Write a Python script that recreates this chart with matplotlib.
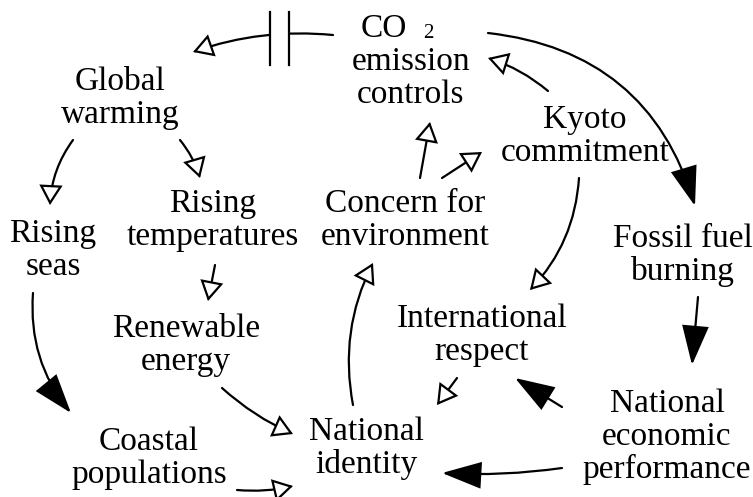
import matplotlib.pyplot as plt
from matplotlib.patches import FancyArrowPatch, ArrowStyle, Rectangle

# node labels (one entry per line of text)
nodes = {
    "co2": ["emission", "controls"],
    "gw": ["Global", "warming"],
    "kyoto": ["Kyoto", "commitment"],
    "seas": ["Rising", "seas"],
    "temp": ["Rising", "temperatures"],
    "concern": ["Concern for", "environment"],
    "fossil": ["Fossil fuel", "burning"],
    "renew": ["Renewable", "energy"],
    "intl": ["International", "respect"],
    "ident": ["National", "identity"],
    "coast": ["Coastal", "populations"],
    "econ": ["National", "economic", "performance"],
}

# causal links: source, target, head type ("open" / "solid"), delay mark
links = [
    ("co2", "gw", "open", True),
    ("gw", "seas", "open", False),
    ("gw", "temp", "open", False),
    ("temp", "renew", "open", False),
    ("seas", "coast", "solid", False),
    ("renew", "ident", "open", False),
    ("coast", "ident", "open", False),
    ("ident", "concern", "open", False),
    ("concern", "co2", "open", False),
    ("concern", "kyoto", "open", False),
    ("kyoto", "co2", "open", False),
    ("kyoto", "intl", "open", False),
    ("co2", "fossil", "solid", False),
    ("fossil", "econ", "solid", False),
    ("econ", "intl", "solid", False),
    ("intl", "ident", "open", False),
    ("econ", "ident", "solid", False),
]

# layout in pixel space: label centre x and first baseline y
node_pos = {
    "co2": (411, 70), "gw": (120, 90), "kyoto": (585, 128),
    "seas": (53, 242), "temp": (213, 212), "concern": (405, 212),
    "fossil": (683, 247), "renew": (186, 337), "intl": (482, 327),
    "ident": (366, 440), "coast": (149, 450), "econ": (667, 412),
}

# arrow geometry: start, tip, arc curvature
link_geom = {
    ("co2", "gw"): ((333, 35), (193, 52), 0.11),
    ("gw", "seas"): ((73, 140), (50, 205), 0.15),
    ("gw", "temp"): ((180, 140), (200, 178), -0.1),
    ("temp", "renew"): ((215, 265), (208, 301), 0.0),
    ("seas", "coast"): ((33, 293), (71, 413), 0.2),
    ("renew", "ident"): ((222, 388), (293, 434), 0.08),
    ("coast", "ident"): ((237, 490), (293, 486), 0.08),
    ("ident", "concern"): ((353, 405), (373, 263), -0.17),
    ("concern", "co2"): ((420, 178), (430, 122), 0.0),
    ("concern", "kyoto"): ((442, 178), (482, 152), 0.0),
    ("kyoto", "co2"): ((548, 91), (488, 58), 0.1),
    ("kyoto", "intl"): ((579, 178), (530, 290), -0.18),
    ("co2", "fossil"): ((488, 33), (695, 206), -0.33),
    ("fossil", "econ"): ((698, 297), (692, 365), 0.0),
    ("econ", "intl"): ((562, 407), (515, 378), 0.0),
    ("intl", "ident"): ((457, 378), (437, 405), 0.0),
    ("econ", "ident"): ((562, 468), (442, 473), -0.05),
}

FONT = "Liberation Serif"
LINE_STEP = 33

fig = plt.figure(figsize=(7.53, 4.97), dpi=100)
ax = fig.add_axes([0, 0, 1, 1])
ax.set_xlim(0, 753)
ax.set_ylim(497, 0)
ax.axis("off")

# node labels
for key, lines in nodes.items():
    x, y0 = node_pos[key]
    for i, line in enumerate(lines):
        ax.text(x, y0 + i * LINE_STEP, line, ha="center", va="baseline",
                fontsize=24, family=FONT)

# "CO 2" line above the emission controls label
ax.text(361, 37, "CO", ha="left", va="baseline", fontsize=24, family=FONT)
ax.text(423, 38, "2", ha="left", va="baseline", fontsize=15, family=FONT)

open_head = ArrowStyle("-|>", head_length=12, head_width=7)
solid_head = ArrowStyle("-|>", head_length=25, head_width=8.5)

for src, dst, head, delay in links:
    p0, p1, rad = link_geom[(src, dst)]
    solid = head == "solid"
    arrow = FancyArrowPatch(p0, p1, arrowstyle=solid_head if solid else open_head,
                            connectionstyle=f"arc3,rad={rad}", mutation_scale=1,
                            shrinkA=0, shrinkB=0, lw=1.6, ec="black",
                            fc="black" if solid else "white", joinstyle="miter")
    ax.add_patch(arrow)
    if delay:
        ax.add_patch(Rectangle((271, 28), 17, 14, fc="white", ec="none", zorder=3))
        for bx in (270, 289):
            ax.plot([bx, bx], [12, 65], color="black", lw=1.6, zorder=4)

fig.savefig("out.png", dpi=100)
